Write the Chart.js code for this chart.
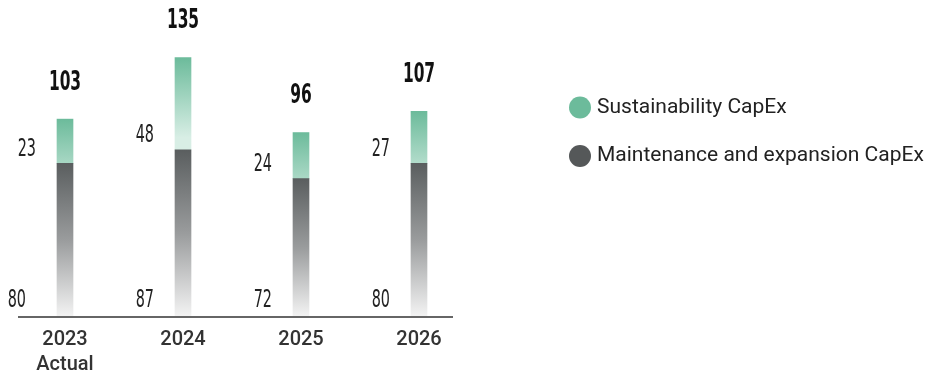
<!DOCTYPE html>
<html>
<head>
<meta charset="utf-8">
<script src="https://cdn.jsdelivr.net/npm/chart.js@4/dist/chart.umd.min.js"></script>
<style>
html,body{margin:0;padding:0;background:#fff;overflow:hidden;}
#wrap{position:relative;width:933px;height:376px;overflow:hidden;}
</style>
</head>
<body>
<div id="wrap"><canvas id="c" width="933" height="376"></canvas></div>
<script>
const categories = [["2023","Actual"], "2024", "2025", "2026"];
const maintenance = [80, 87, 72, 80];
const sustainability = [23, 48, 24, 27];
const totals = [103, 135, 96, 107];
const seriesNames = ["Sustainability CapEx", "Maintenance and expansion CapEx"];

const NARROW = '"Liberation Sans Narrow", "DejaVu Sans Condensed", "Roboto Condensed", sans-serif';

function darkGrad(ctx) {
  const chart = ctx.chart;
  const ys = chart.scales && chart.scales.y;
  if (!chart.chartArea || !ys) return '#5a5e5f';
  const i = ctx.dataIndex;
  const top = ys.getPixelForValue(maintenance[i]);
  const bot = ys.getPixelForValue(0);
  const g = chart.ctx.createLinearGradient(0, top, 0, bot);
  g.addColorStop(0, '#5a5e5f');
  g.addColorStop(0.5, '#9a9c9d');
  g.addColorStop(1, '#f4f4f4');
  return g;
}
function greenGrad(ctx) {
  const chart = ctx.chart;
  const ys = chart.scales && chart.scales.y;
  if (!chart.chartArea || !ys) return '#6cbb9b';
  const i = ctx.dataIndex;
  const top = ys.getPixelForValue(maintenance[i] + sustainability[i]);
  const g = chart.ctx.createLinearGradient(0, top, 0, top + 80);
  g.addColorStop(0, '#6cbb9b');
  g.addColorStop(1, '#d8eee5');
  return g;
}

function drawScaled(c, txt, x, y, sx) {
  c.save();
  c.translate(x, y);
  c.scale(sx, 1);
  c.fillText(txt, 0, 0);
  c.restore();
}

const decor = {
  id: 'decor',
  afterDatasetsDraw(chart) {
    const c = chart.ctx;
    const area = chart.chartArea;
    // axis line
    c.save();
    c.strokeStyle = '#666666';
    c.lineWidth = 2;
    c.beginPath();
    c.moveTo(area.left + 12, area.bottom);
    c.lineTo(area.right - 25, area.bottom);
    c.stroke();
    c.restore();

    const meta0 = chart.getDatasetMeta(0);
    const meta1 = chart.getDatasetMeta(1);
    for (let i = 0; i < categories.length; i++) {
      const barD = meta0.data[i];
      const barS = meta1.data[i];
      const left = barD.x - barD.width / 2;
      c.save();
      c.fillStyle = '#222';
      c.font = '400 25px ' + NARROW;
      c.textAlign = 'right';
      c.textBaseline = 'middle';
      const dx = i === 0 ? 31 : 21;
      drawScaled(c, String(maintenance[i]), left - dx, area.bottom - 17, 0.64);
      drawScaled(c, String(sustainability[i]), left - 21, barS.base - 14, 0.64);
      // totals
      c.font = '700 26px ' + NARROW;
      c.textAlign = 'center';
      c.fillStyle = '#111';
      drawScaled(c, String(totals[i]), barS.x, barS.y - 36, 0.66);
      c.restore();
    }

    // legend
    const items = [
      {label: seriesNames[0], color: '#6cbb9b', y: 107.5},
      {label: seriesNames[1], color: '#555859', y: 156}
    ];
    c.save();
    items.forEach(it => {
      c.fillStyle = it.color;
      c.beginPath();
      c.arc(580, it.y, 11, 0, Math.PI * 2);
      c.fill();
      c.fillStyle = '#222';
      c.font = '400 21px Roboto, sans-serif';
      c.textAlign = 'left';
      c.textBaseline = 'middle';
      c.fillText(it.label, 597, it.y);
    });
    c.restore();
  }
};

new Chart(document.getElementById('c'), {
  type: 'bar',
  data: {
    labels: categories,
    datasets: [
      { label: seriesNames[1], data: maintenance, backgroundColor: darkGrad, barThickness: 16, borderWidth: 0 },
      { label: seriesNames[0], data: sustainability, backgroundColor: greenGrad, barThickness: 16, borderWidth: 0 }
    ]
  },
  options: {
    responsive: false,
    animation: false,
    devicePixelRatio: 1,
    layout: { padding: { left: 6, right: 455, top: 0, bottom: -11 } },
    plugins: { legend: { display: false }, tooltip: { enabled: false } },
    scales: {
      x: {
        stacked: true,
        grid: { display: false, drawTicks: false },
        border: { display: false },
        ticks: {
          color: '#333',
          padding: 10,
          maxRotation: 0,
          font: { family: 'Roboto, sans-serif', size: 20, weight: '500', lineHeight: 1.25 }
        }
      },
      y: {
        stacked: true,
        display: false,
        min: 0,
        max: 165
      }
    }
  },
  plugins: [decor]
});
</script>
</body>
</html>
